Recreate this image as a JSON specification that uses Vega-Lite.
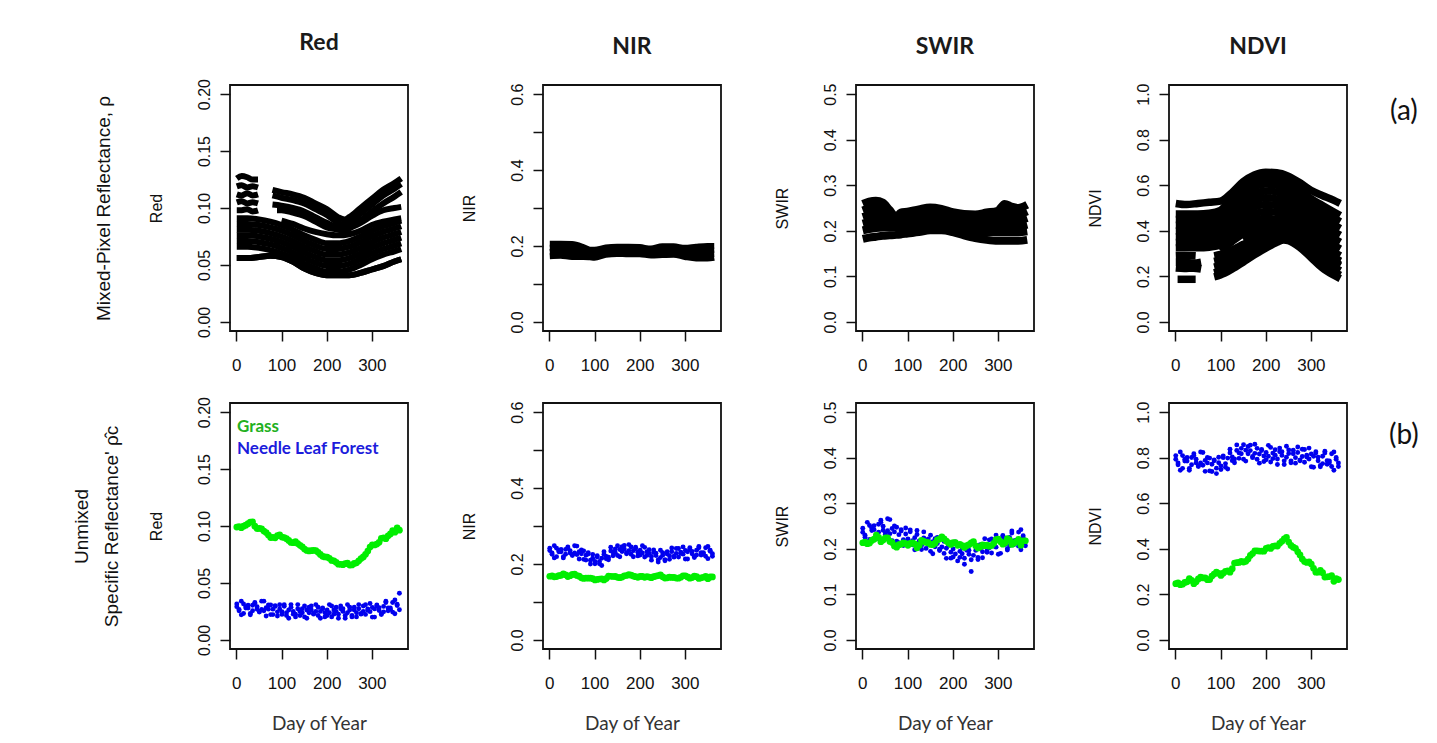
{
"$schema":"https://vega.github.io/schema/vega-lite/v6.json",
"background":"white",
"padding":{"left":71,"top":30,"right":0,"bottom":0},
"config":{
 "view":{"stroke":"#111","strokeWidth":1.8},
 "font":"Liberation Sans",
 "axis":{"domain":false,"grid":false,"tickColor":"#111","tickWidth":1.5,"tickSize":10,"labelColor":"#111","labelFont":"Liberation Sans","titleFont":"Liberation Sans","titleFontWeight":"normal","titleColor":"#111","labelOverlap":false,"labelBound":false,"labelFlush":false},
 "axisX":{"labelFontSize":17,"labelPadding":16,"labelAngle":0,"titleFont":"Lato","titleFontSize":19,"titleColor":"#333","titlePadding":23},
 "axisY":{"labelFontSize":16,"labelAngle":270,"labelAlign":"center","labelBaseline":"bottom","labelPadding":8,"titleFontSize":16,"titlePadding":32},
 "title":{"font":"Lato","fontSize":23,"fontWeight":"bold","color":"#1a1a1a","offset":24,"anchor":"middle","frame":"group"}
},
"datasets":{
"redTop":[
{"d":1,"a1":0.056,"a2":0.066,"a3":0.071,"a4":0.076,"a5":0.081,"a6":0.086,"a7":0.091,"s1":0.126,"s2":0.119,"s3":0.112,"s4":0.105,"s5":0.098},
{"d":12,"s1":0.128,"s2":0.12,"s3":0.111,"s4":0.106,"s5":0.098},
{"d":24,"s1":0.127,"s2":0.118,"s3":0.113,"s4":0.104,"s5":0.099},
{"d":25,"a1":0.056,"a2":0.066,"a3":0.071,"a4":0.076,"a5":0.081,"a6":0.086,"a7":0.091},
{"d":36,"s1":0.125,"s2":0.119,"s3":0.111,"s4":0.105,"s5":0.097},
{"d":48,"s1":0.125,"s2":0.118,"s3":0.112,"s4":0.104,"s5":0.098},
{"d":50,"a1":0.057,"a2":0.065,"a3":0.07,"a4":0.075,"a5":0.08,"a6":0.085,"a7":0.09},
{"d":75,"a1":0.058,"a2":0.063,"a3":0.068,"a4":0.073,"a5":0.078,"a6":0.083,"a7":0.088},
{"d":80,"u1":0.116,"u2":0.111,"u3":0.103},
{"d":90,"u4":0.098},
{"d":100,"a1":0.057,"a2":0.06,"a3":0.065,"a4":0.07,"a5":0.075,"a6":0.08,"a7":0.085,"a8":0.089,"u1":0.114,"u2":0.109,"u3":0.102,"u4":0.098},
{"d":125,"a1":0.053,"a2":0.056,"a3":0.061,"a4":0.066,"a5":0.071,"a6":0.076,"a7":0.081,"a8":0.086,"u1":0.112,"u2":0.107,"u3":0.1,"u4":0.096},
{"d":150,"a1":0.047,"a2":0.051,"a3":0.056,"a4":0.061,"a5":0.066,"a6":0.071,"a7":0.076,"a8":0.082,"u1":0.109,"u2":0.104,"u3":0.097,"u4":0.093},
{"d":175,"a1":0.043,"a2":0.047,"a3":0.052,"a4":0.057,"a5":0.062,"a6":0.067,"a7":0.072,"a8":0.079,"u1":0.104,"u2":0.099,"u3":0.092,"u4":0.088},
{"d":200,"a1":0.041,"a2":0.044,"a3":0.049,"a4":0.054,"a5":0.059,"a6":0.064,"a7":0.069,"a8":0.077,"u1":0.099,"u2":0.094,"u3":0.087,"u4":0.083},
{"d":225,"a1":0.041,"a2":0.044,"a3":0.049,"a4":0.054,"a5":0.059,"a6":0.064,"a7":0.069,"a8":0.076,"u1":0.092,"u2":0.087,"u3":0.083,"u4":0.081},
{"d":240,"u1":0.09,"u2":0.085,"u3":0.082,"u4":0.08},
{"d":250,"a1":0.041,"a2":0.046,"a3":0.051,"a4":0.056,"a5":0.061,"a6":0.066,"a7":0.071,"a8":0.077,"u1":0.092,"u2":0.087,"u3":0.083,"u4":0.082},
{"d":275,"a1":0.043,"a2":0.05,"a3":0.055,"a4":0.06,"a5":0.065,"a6":0.07,"a7":0.075,"a8":0.08,"u1":0.1,"u2":0.095,"u3":0.089,"u4":0.087},
{"d":300,"a1":0.046,"a2":0.055,"a3":0.06,"a4":0.065,"a5":0.07,"a6":0.075,"a7":0.08,"a8":0.085,"u1":0.108,"u2":0.103,"u3":0.097,"u4":0.093},
{"d":325,"a1":0.049,"a2":0.059,"a3":0.064,"a4":0.069,"a5":0.074,"a6":0.079,"a7":0.084,"a8":0.088,"u1":0.116,"u2":0.111,"u3":0.104,"u4":0.098},
{"d":350,"a1":0.053,"a2":0.062,"a3":0.067,"a4":0.072,"a5":0.077,"a6":0.082,"a7":0.087,"a8":0.09,"u1":0.122,"u2":0.117,"u3":0.11,"u4":0.1},
{"d":365,"a1":0.055,"a2":0.064,"a3":0.069,"a4":0.074,"a5":0.079,"a6":0.084,"a7":0.089,"a8":0.091,"u1":0.126,"u2":0.121,"u3":0.114,"u4":0.101}
],
"nirTop":[
{"d":1,"n1":0.206,"n2":0.195,"n3":0.184,"n4":0.173},
{"d":25,"n1":0.206,"n2":0.195,"n3":0.185,"n4":0.174},
{"d":50,"n1":0.205,"n2":0.194,"n3":0.182,"n4":0.171},
{"d":75,"n1":0.197,"n2":0.188,"n3":0.18,"n4":0.171},
{"d":90,"n1":0.19,"n2":0.183,"n3":0.177,"n4":0.17},
{"d":100,"n1":0.19,"n2":0.183,"n3":0.176,"n4":0.169},
{"d":125,"n1":0.196,"n2":0.19,"n3":0.183,"n4":0.177},
{"d":150,"n1":0.198,"n2":0.192,"n3":0.185,"n4":0.179},
{"d":175,"n1":0.198,"n2":0.191,"n3":0.185,"n4":0.178},
{"d":200,"n1":0.197,"n2":0.191,"n3":0.184,"n4":0.178},
{"d":225,"n1":0.193,"n2":0.187,"n3":0.181,"n4":0.175},
{"d":250,"n1":0.199,"n2":0.191,"n3":0.184,"n4":0.176},
{"d":275,"n1":0.199,"n2":0.192,"n3":0.184,"n4":0.177},
{"d":300,"n1":0.195,"n2":0.187,"n3":0.179,"n4":0.171},
{"d":325,"n1":0.198,"n2":0.188,"n3":0.177,"n4":0.167},
{"d":350,"n1":0.2,"n2":0.189,"n3":0.178,"n4":0.167},
{"d":365,"n1":0.2,"n2":0.19,"n3":0.179,"n4":0.169}
],
"swirTop":[
{"d":1,"w1":0.182,"w2":0.201,"w3":0.2155,"w4":0.23,"w5":0.2445,"w6":0.259},
{"d":15,"w1":0.185,"w2":0.204,"w3":0.219,"w4":0.234,"w5":0.249,"w6":0.264},
{"d":30,"w1":0.187,"w2":0.206,"w3":0.221,"w4":0.236,"w5":0.251,"w6":0.266},
{"d":45,"w1":0.189,"w2":0.207,"w3":0.221,"w4":0.2345,"w5":0.248,"w6":0.262},
{"d":60,"w1":0.19,"w2":0.207,"w3":0.217,"w4":0.2265,"w5":0.236,"w6":0.246},
{"d":75,"w1":0.191,"w2":0.207,"w3":0.213,"w4":0.2185,"w5":0.224,"w6":0.23},
{"d":85,"w1":0.192,"w2":0.206,"w3":0.2145,"w4":0.223,"w5":0.2315,"w6":0.24},
{"d":100,"w1":0.194,"w2":0.205,"w3":0.214,"w4":0.2235,"w5":0.233,"w6":0.242},
{"d":125,"w1":0.197,"w2":0.207,"w3":0.217,"w4":0.227,"w5":0.237,"w6":0.247},
{"d":150,"w1":0.201,"w2":0.21,"w3":0.22,"w4":0.2305,"w5":0.241,"w6":0.251},
{"d":175,"w1":0.201,"w2":0.21,"w3":0.2195,"w4":0.229,"w5":0.2385,"w6":0.248},
{"d":200,"w1":0.197,"w2":0.206,"w3":0.2148,"w4":0.2235,"w5":0.232,"w6":0.241},
{"d":225,"w1":0.19,"w2":0.199,"w3":0.2085,"w4":0.218,"w5":0.2275,"w6":0.237},
{"d":250,"w1":0.184,"w2":0.196,"w3":0.206,"w4":0.216,"w5":0.226,"w6":0.236},
{"d":275,"w1":0.18,"w2":0.196,"w3":0.207,"w4":0.218,"w5":0.229,"w6":0.24},
{"d":300,"w1":0.178,"w2":0.197,"w3":0.209,"w4":0.2205,"w5":0.232,"w6":0.244},
{"d":315,"w1":0.178,"w2":0.197,"w3":0.2125,"w4":0.228,"w5":0.2435,"w6":0.259},
{"d":330,"w1":0.178,"w2":0.197,"w3":0.211,"w4":0.225,"w5":0.239,"w6":0.253},
{"d":345,"w1":0.178,"w2":0.197,"w3":0.21,"w4":0.2235,"w5":0.2365,"w6":0.25},
{"d":365,"w1":0.18,"w2":0.199,"w3":0.2135,"w4":0.228,"w5":0.2425,"w6":0.257}
],
"ndviTop":[
{"d":1,"A":0.52,"M1":0.474,"M2":0.449,"M3":0.424,"M4":0.399,"M5":0.374,"M6":0.349,"M7":0.325,"Q1":0.291,"Q2":0.262,"Q3":0.236},
{"d":5,"Q4":0.187},
{"d":20,"Q1":0.292,"Q2":0.262,"Q3":0.234},
{"d":25,"A":0.515,"M1":0.474,"M2":0.449,"M3":0.424,"M4":0.399,"M5":0.374,"M6":0.349,"M7":0.325,"Q4":0.187},
{"d":40,"Q2":0.258,"Q3":0.236},
{"d":45,"Q1":0.29,"Q4":0.187},
{"d":50,"A":0.52,"M1":0.474,"M2":0.449,"M3":0.424,"M4":0.399,"M5":0.374,"M6":0.349,"M7":0.325},
{"d":57,"Q2":0.262,"Q3":0.232},
{"d":75,"A":0.525,"M1":0.477,"M2":0.452,"M3":0.427,"M4":0.402,"M5":0.377,"M6":0.352,"M7":0.328},
{"d":86,"G1":0.29,"G2":0.265,"G3":0.24,"G4":0.215,"G5":0.198},
{"d":100,"A":0.53,"M1":0.49,"M2":0.465,"M3":0.439,"M4":0.414,"M5":0.388,"M6":0.363,"M7":0.338,"M8":0.312,"G1":0.296,"G2":0.272,"G3":0.248,"G4":0.224,"G5":0.206},
{"d":125,"A":0.567,"M1":0.545,"M2":0.519,"M3":0.492,"M4":0.465,"M5":0.437,"M6":0.41,"M7":0.384,"M8":0.352,"G1":0.315,"G2":0.292,"G3":0.27,"G4":0.248,"G5":0.231},
{"d":150,"A":0.615,"M1":0.588,"M2":0.561,"M3":0.533,"M4":0.504,"M5":0.476,"M6":0.447,"M7":0.419,"M8":0.388,"M9":0.362,"G1":0.34,"G2":0.318,"G3":0.298,"G4":0.278,"G5":0.262},
{"d":175,"A":0.645,"M1":0.619,"M2":0.593,"M3":0.563,"M4":0.533,"M5":0.504,"M6":0.474,"M7":0.445,"M8":0.415,"M9":0.39,"G1":0.365,"G2":0.345,"G3":0.327,"G4":0.309,"G5":0.294},
{"d":200,"A":0.657,"M1":0.632,"M2":0.605,"M3":0.575,"M4":0.545,"M5":0.515,"M6":0.485,"M7":0.455,"M8":0.428,"M9":0.405,"G1":0.385,"G2":0.368,"G3":0.352,"G4":0.337,"G5":0.323},
{"d":225,"A":0.655,"M1":0.627,"M2":0.6,"M3":0.57,"M4":0.54,"M5":0.51,"M6":0.48,"M7":0.45,"M8":0.425,"M9":0.41,"G1":0.398,"G2":0.385,"G3":0.372,"G4":0.36,"G5":0.35},
{"d":240,"G1":0.4,"G2":0.388,"G3":0.377,"G4":0.367,"G5":0.36},
{"d":250,"A":0.64,"M1":0.609,"M2":0.582,"M3":0.552,"M4":0.522,"M5":0.492,"M6":0.462,"M7":0.432,"M8":0.407,"M9":0.392,"G1":0.397,"G2":0.385,"G3":0.374,"G4":0.364,"G5":0.357},
{"d":275,"A":0.612,"M1":0.583,"M2":0.556,"M3":0.526,"M4":0.496,"M5":0.466,"M6":0.436,"M7":0.406,"M8":0.38,"M9":0.36,"G1":0.375,"G2":0.362,"G3":0.35,"G4":0.338,"G5":0.328},
{"d":300,"A":0.578,"M1":0.541,"M2":0.514,"M3":0.484,"M4":0.454,"M5":0.424,"M6":0.394,"M7":0.364,"M8":0.34,"M9":0.322,"G1":0.34,"G2":0.325,"G3":0.31,"G4":0.295,"G5":0.283},
{"d":325,"A":0.555,"M1":0.512,"M2":0.485,"M3":0.455,"M4":0.425,"M5":0.395,"M6":0.365,"M7":0.335,"M8":0.31,"M9":0.292,"G1":0.305,"G2":0.288,"G3":0.27,"G4":0.252,"G5":0.238},
{"d":350,"A":0.535,"M1":0.484,"M2":0.457,"M3":0.427,"M4":0.397,"M5":0.367,"M6":0.337,"M7":0.307,"M8":0.283,"M9":0.266,"G1":0.28,"G2":0.262,"G3":0.242,"G4":0.222,"G5":0.206},
{"d":365,"A":0.52,"M1":0.467,"M2":0.44,"M3":0.41,"M4":0.38,"M5":0.35,"M6":0.32,"M7":0.29,"M8":0.268,"M9":0.25,"G1":0.265,"G2":0.245,"G3":0.225,"G4":0.205,"G5":0.19}
],
"bottom":[
{"d":1,"rG":0.0991,"rN":0.0316,"rM":0.0292,"nG":0.1676,"nN":0.2352,"nM":0.2416,"sG":0.2132,"sN":0.2452,"sM":0.2364,"vG":0.247,"vN":0.793,"vM":0.809},
{"d":6,"rG":0.0994,"rN":0.0256,"rM":0.0268,"nG":0.1684,"nN":0.2288,"nM":0.2256,"sG":0.2148,"sN":0.2252,"sM":0.2296,"vG":0.25,"vN":0.777,"vM":0.769},
{"d":11,"rG":0.0985,"rN":0.034,"rM":0.022,"nG":0.166,"nN":0.216,"nM":0.248,"sG":0.211,"sN":0.258,"sM":0.214,"vG":0.242,"vN":0.745,"vM":0.825},
{"d":16,"rG":0.0998,"rN":0.0232,"rM":0.0316,"nG":0.1668,"nN":0.2416,"nM":0.2192,"sG":0.2126,"sN":0.2204,"sM":0.2512,"vG":0.2446,"vN":0.809,"vM":0.753},
{"d":21,"rG":0.1007,"rN":0.0292,"rM":0.028,"nG":0.1692,"nN":0.232,"nM":0.2352,"sG":0.2184,"sN":0.2444,"sM":0.24,"vG":0.2524,"vN":0.785,"vM":0.793},
{"d":26,"rG":0.102,"rN":0.028,"rM":0.0304,"nG":0.17,"nN":0.2384,"nM":0.232,"sG":0.221,"sN":0.242,"sM":0.2508,"vG":0.255,"vN":0.801,"vM":0.785},
{"d":31,"rG":0.1035,"rN":0.022,"rM":0.0232,"nG":0.174,"nN":0.2192,"nM":0.216,"sG":0.23,"sN":0.222,"sM":0.2264,"vG":0.269,"vN":0.753,"vM":0.745},
{"d":36,"rG":0.1036,"rN":0.0304,"rM":0.0256,"nG":0.1716,"nN":0.2256,"nM":0.2384,"sG":0.2252,"sN":0.2538,"sM":0.2362,"vG":0.2612,"vN":0.769,"vM":0.801},
{"d":41,"rG":0.0998,"rN":0.0328,"rM":0.0322,"nG":0.1668,"nN":0.2448,"nM":0.242,"sG":0.2156,"sN":0.2626,"sM":0.258,"vG":0.2466,"vN":0.817,"vM":0.809},
{"d":46,"rG":0.0977,"rN":0.0268,"rM":0.0292,"nG":0.1692,"nN":0.2352,"nM":0.2288,"sG":0.2194,"sN":0.2406,"sM":0.2494,"vG":0.2554,"vN":0.793,"vM":0.777},
{"d":51,"rG":0.0979,"rN":0.0244,"rM":0.025,"nG":0.1724,"nN":0.2224,"nM":0.225,"sG":0.2238,"sN":0.2318,"sM":0.235,"vG":0.2678,"vN":0.761,"vM":0.765},
{"d":56,"rG":0.0975,"rN":0.034,"rM":0.0268,"nG":0.173,"nN":0.2288,"nM":0.248,"sG":0.224,"sN":0.266,"sM":0.2396,"vG":0.276,"vN":0.777,"vM":0.825},
{"d":61,"rG":0.0956,"rN":0.0256,"rM":0.034,"nG":0.1696,"nN":0.247,"nM":0.2246,"sG":0.2162,"sN":0.2332,"sM":0.264,"vG":0.2722,"vN":0.823,"vM":0.767},
{"d":66,"rG":0.0943,"rN":0.0282,"rM":0.021,"nG":0.1678,"nN":0.213,"nM":0.2322,"sG":0.2136,"sN":0.2444,"sM":0.218,"vG":0.2726,"vN":0.74,"vM":0.788},
{"d":71,"rG":0.0921,"rN":0.0306,"rM":0.027,"nG":0.1636,"nN":0.227,"nM":0.2366,"sG":0.2062,"sN":0.2502,"sM":0.237,"vG":0.2642,"vN":0.777,"vM":0.801},
{"d":76,"rG":0.0898,"rN":0.0222,"rM":0.0306,"nG":0.1618,"nN":0.2346,"nM":0.2122,"sG":0.2036,"sN":0.2164,"sM":0.2472,"vG":0.2646,"vN":0.798,"vM":0.742},
{"d":81,"rG":0.09,"rN":0.027,"rM":0.0222,"nG":0.163,"nN":0.2102,"nM":0.223,"sG":0.209,"sN":0.231,"sM":0.2134,"vG":0.28,"vN":0.739,"vM":0.771},
{"d":86,"rG":0.0896,"rN":0.0294,"rM":0.03,"nG":0.1626,"nN":0.2264,"nM":0.23,"sG":0.2102,"sN":0.2388,"sM":0.242,"vG":0.2892,"vN":0.786,"vM":0.79},
{"d":91,"rG":0.0915,"rN":0.021,"rM":0.0246,"nG":0.163,"nN":0.2096,"nM":0.2,"sG":0.213,"sN":0.207,"sM":0.2202,"vG":0.298,"vN":0.754,"vM":0.73},
{"d":96,"rG":0.0922,"rN":0.0308,"rM":0.0272,"nG":0.1612,"nN":0.2152,"nM":0.2248,"sG":0.2114,"sN":0.2456,"sM":0.2324,"vG":0.2924,"vN":0.778,"vM":0.802},
{"d":101,"rG":0.0903,"rN":0.0248,"rM":0.0224,"nG":0.1578,"nN":0.2004,"nM":0.2068,"sG":0.2076,"sN":0.2216,"sM":0.2128,"vG":0.2826,"vN":0.748,"vM":0.764},
{"d":106,"rG":0.0899,"rN":0.0296,"rM":0.0308,"nG":0.1594,"nN":0.2218,"nM":0.2186,"sG":0.2118,"sN":0.2372,"sM":0.2416,"vG":0.2928,"vN":0.808,"vM":0.8},
{"d":111,"rG":0.0889,"rN":0.0214,"rM":0.0238,"nG":0.1604,"nN":0.2068,"nM":0.2004,"sG":0.2128,"sN":0.2088,"sM":0.2176,"vG":0.3008,"vN":0.774,"vM":0.758},
{"d":116,"rG":0.0873,"rN":0.0262,"rM":0.019,"nG":0.1608,"nN":0.196,"nM":0.2152,"sG":0.2106,"sN":0.2244,"sM":0.198,"vG":0.3026,"vN":0.75,"vM":0.798},
{"d":121,"rG":0.0855,"rN":0.031,"rM":0.0286,"nG":0.158,"nN":0.2256,"nM":0.232,"sG":0.202,"sN":0.24,"sM":0.2312,"vG":0.297,"vN":0.821,"vM":0.837},
{"d":126,"rG":0.0854,"rN":0.0226,"rM":0.025,"nG":0.1614,"nN":0.22,"nM":0.2136,"sG":0.2078,"sN":0.2082,"sM":0.217,"vG":0.3128,"vN":0.803,"vM":0.787},
{"d":131,"rG":0.0862,"rN":0.0202,"rM":0.0226,"nG":0.1682,"nN":0.2176,"nM":0.2112,"sG":0.2184,"sN":0.1984,"sM":0.2072,"vG":0.3374,"vN":0.794,"vM":0.778},
{"d":136,"rG":0.0846,"rN":0.0274,"rM":0.031,"nG":0.1676,"nN":0.244,"nM":0.2344,"sG":0.2162,"sN":0.2238,"sM":0.237,"vG":0.3392,"vN":0.856,"vM":0.832},
{"d":141,"rG":0.083,"rN":0.025,"rM":0.0214,"nG":0.167,"nN":0.2214,"nM":0.231,"sG":0.214,"sN":0.214,"sM":0.2008,"vG":0.34,"vN":0.797,"vM":0.821},
{"d":146,"rG":0.0817,"rN":0.0238,"rM":0.0274,"nG":0.1672,"nN":0.2394,"nM":0.2298,"sG":0.2134,"sN":0.2086,"sM":0.2218,"vG":0.3444,"vN":0.841,"vM":0.817},
{"d":151,"rG":0.0798,"rN":0.0298,"rM":0.0202,"nG":0.1648,"nN":0.2222,"nM":0.2478,"sG":0.2096,"sN":0.2296,"sM":0.1944,"vG":0.3416,"vN":0.793,"vM":0.857},
{"d":156,"rG":0.0785,"rN":0.019,"rM":0.0262,"nG":0.164,"nN":0.2382,"nM":0.219,"sG":0.209,"sN":0.189,"sM":0.2154,"vG":0.345,"vN":0.833,"vM":0.785},
{"d":161,"rG":0.0781,"rN":0.0286,"rM":0.0238,"nG":0.1656,"nN":0.2328,"nM":0.2456,"sG":0.2122,"sN":0.2222,"sM":0.2046,"vG":0.3552,"vN":0.817,"vM":0.849},
{"d":166,"rG":0.0783,"rN":0.0262,"rM":0.0298,"nG":0.1688,"nN":0.2488,"nM":0.2392,"sG":0.2196,"sN":0.2114,"sM":0.2246,"vG":0.3706,"vN":0.855,"vM":0.831},
{"d":171,"rG":0.0786,"rN":0.0226,"rM":0.0232,"nG":0.1696,"nN":0.2296,"nM":0.227,"sG":0.2212,"sN":0.1962,"sM":0.199,"vG":0.3792,"vN":0.805,"vM":0.8},
{"d":176,"rG":0.0785,"rN":0.031,"rM":0.025,"nG":0.172,"nN":0.235,"nM":0.251,"sG":0.226,"sN":0.226,"sM":0.204,"vG":0.391,"vN":0.819,"vM":0.859},
{"d":181,"rG":0.0769,"rN":0.0214,"rM":0.0286,"nG":0.1704,"nN":0.2446,"nM":0.2254,"sG":0.2218,"sN":0.1898,"sM":0.2162,"vG":0.3908,"vN":0.841,"vM":0.793},
{"d":186,"rG":0.075,"rN":0.025,"rM":0.019,"nG":0.168,"nN":0.219,"nM":0.235,"sG":0.217,"sN":0.201,"sM":0.179,"vG":0.39,"vN":0.776,"vM":0.816},
{"d":191,"rG":0.0734,"rN":0.0274,"rM":0.028,"nG":0.1664,"nN":0.2404,"nM":0.244,"sG":0.2128,"sN":0.2078,"sM":0.211,"vG":0.3898,"vN":0.831,"vM":0.836},
{"d":196,"rG":0.0728,"rN":0.0202,"rM":0.0238,"nG":0.1648,"nN":0.2308,"nM":0.2212,"sG":0.2096,"sN":0.1794,"sM":0.1926,"vG":0.3896,"vN":0.807,"vM":0.783},
{"d":201,"rG":0.0727,"rN":0.0262,"rM":0.0214,"nG":0.1672,"nN":0.2234,"nM":0.2362,"sG":0.2134,"sN":0.1994,"sM":0.1818,"vG":0.4014,"vN":0.791,"vM":0.823},
{"d":206,"rG":0.0717,"rN":0.0238,"rM":0.031,"nG":0.1672,"nN":0.248,"nM":0.2288,"sG":0.2134,"sN":0.1886,"sM":0.215,"vG":0.4054,"vN":0.854,"vM":0.806},
{"d":211,"rG":0.0698,"rN":0.0298,"rM":0.0202,"nG":0.1648,"nN":0.2182,"nM":0.2438,"sG":0.2076,"sN":0.2086,"sM":0.1734,"vG":0.4016,"vN":0.781,"vM":0.845},
{"d":216,"rG":0.0694,"rN":0.0226,"rM":0.0262,"nG":0.1664,"nN":0.2322,"nM":0.2226,"sG":0.2098,"sN":0.1812,"sM":0.1944,"vG":0.4108,"vN":0.82,"vM":0.796},
{"d":221,"rG":0.0681,"rN":0.0286,"rM":0.025,"nG":0.1656,"nN":0.228,"nM":0.2376,"sG":0.2072,"sN":0.2022,"sM":0.189,"vG":0.4132,"vN":0.811,"vM":0.835},
{"d":226,"rG":0.0665,"rN":0.019,"rM":0.0226,"nG":0.164,"nN":0.2196,"nM":0.21,"sG":0.203,"sN":0.166,"sM":0.1792,"vG":0.412,"vN":0.794,"vM":0.77},
{"d":231,"rG":0.0664,"rN":0.0274,"rM":0.0298,"nG":0.1664,"nN":0.2368,"nM":0.2304,"sG":0.2068,"sN":0.1968,"sM":0.2056,"vG":0.4238,"vN":0.842,"vM":0.826},
{"d":236,"rG":0.066,"rN":0.025,"rM":0.0274,"nG":0.168,"nN":0.2284,"nM":0.222,"sG":0.209,"sN":0.188,"sM":0.1968,"vG":0.433,"vN":0.826,"vM":0.81},
{"d":241,"rG":0.0669,"rN":0.0214,"rM":0.019,"nG":0.1694,"nN":0.205,"nM":0.2114,"sG":0.2128,"sN":0.1758,"sM":0.15,"vG":0.4438,"vN":0.77,"vM":0.786},
{"d":246,"rG":0.0675,"rN":0.031,"rM":0.0238,"nG":0.171,"nN":0.2168,"nM":0.236,"sG":0.216,"sN":0.212,"sM":0.1856,"vG":0.45,"vN":0.802,"vM":0.85},
{"d":251,"rG":0.0657,"rN":0.0262,"rM":0.0286,"nG":0.1662,"nN":0.2296,"nM":0.2232,"sG":0.2064,"sN":0.1964,"sM":0.2052,"vG":0.4294,"vN":0.834,"vM":0.818},
{"d":256,"rG":0.0658,"rN":0.0202,"rM":0.0214,"nG":0.1628,"nN":0.2114,"nM":0.2082,"sG":0.2016,"sN":0.1764,"sM":0.1808,"vG":0.4146,"vN":0.786,"vM":0.778},
{"d":261,"rG":0.0671,"rN":0.0286,"rM":0.0262,"nG":0.1636,"nN":0.2262,"nM":0.2326,"sG":0.2042,"sN":0.2092,"sM":0.2004,"vG":0.4072,"vN":0.817,"vM":0.833},
{"d":266,"rG":0.0677,"rN":0.0238,"rM":0.0202,"nG":0.1652,"nN":0.2122,"nM":0.2218,"sG":0.2084,"sN":0.1936,"sM":0.1804,"vG":0.4024,"vN":0.776,"vM":0.8},
{"d":271,"rG":0.0694,"rN":0.0274,"rM":0.031,"nG":0.1644,"nN":0.242,"nM":0.2324,"sG":0.2068,"sN":0.2088,"sM":0.222,"vG":0.3868,"vN":0.847,"vM":0.823},
{"d":276,"rG":0.0714,"rN":0.0226,"rM":0.0232,"nG":0.1644,"nN":0.2206,"nM":0.218,"sG":0.2078,"sN":0.1922,"sM":0.195,"vG":0.3728,"vN":0.79,"vM":0.786},
{"d":281,"rG":0.0728,"rN":0.0298,"rM":0.025,"nG":0.1628,"nN":0.228,"nM":0.2408,"sG":0.2056,"sN":0.2196,"sM":0.202,"vG":0.3546,"vN":0.805,"vM":0.837},
{"d":286,"rG":0.0751,"rN":0.0224,"rM":0.0308,"nG":0.1626,"nN":0.2408,"nM":0.2184,"sG":0.2072,"sN":0.1908,"sM":0.2216,"vG":0.3442,"vN":0.836,"vM":0.78},
{"d":291,"rG":0.078,"rN":0.026,"rM":0.0272,"nG":0.165,"nN":0.2312,"nM":0.228,"sG":0.212,"sN":0.206,"sM":0.2104,"vG":0.34,"vN":0.811,"vM":0.803},
{"d":296,"rG":0.0815,"rN":0.032,"rM":0.0248,"nG":0.169,"nN":0.2258,"nM":0.245,"sG":0.22,"sN":0.23,"sM":0.2036,"vG":0.343,"vN":0.794,"vM":0.842},
{"d":301,"rG":0.0835,"rN":0.02,"rM":0.0284,"nG":0.169,"nN":0.2354,"nM":0.213,"sG":0.221,"sN":0.188,"sM":0.2188,"vG":0.333,"vN":0.816,"vM":0.76},
{"d":306,"rG":0.0833,"rN":0.0272,"rM":0.02,"nG":0.1658,"nN":0.213,"nM":0.2322,"sG":0.2156,"sN":0.2164,"sM":0.19,"vG":0.3146,"vN":0.758,"vM":0.806},
{"d":311,"rG":0.0841,"rN":0.0306,"rM":0.03,"nG":0.1626,"nN":0.2396,"nM":0.243,"sG":0.2102,"sN":0.2262,"sM":0.229,"vG":0.2972,"vN":0.82,"vM":0.826},
{"d":316,"rG":0.0857,"rN":0.0258,"rM":0.0282,"nG":0.1642,"nN":0.2332,"nM":0.2268,"sG":0.2134,"sN":0.2096,"sM":0.2184,"vG":0.2974,"vN":0.802,"vM":0.786},
{"d":321,"rG":0.0892,"rN":0.0222,"rM":0.023,"nG":0.1682,"nN":0.2172,"nM":0.22,"sG":0.2224,"sN":0.1974,"sM":0.2,"vG":0.3054,"vN":0.76,"vM":0.766},
{"d":326,"rG":0.0896,"rN":0.0294,"rM":0.0246,"nG":0.1666,"nN":0.2236,"nM":0.2364,"sG":0.2192,"sN":0.2248,"sM":0.2072,"vG":0.2952,"vN":0.774,"vM":0.806},
{"d":331,"rG":0.0888,"rN":0.0328,"rM":0.034,"nG":0.1618,"nN":0.246,"nM":0.2428,"sG":0.2096,"sN":0.2346,"sM":0.239,"vG":0.2756,"vN":0.828,"vM":0.82},
{"d":336,"rG":0.0914,"rN":0.0256,"rM":0.028,"nG":0.1634,"nN":0.23,"nM":0.2236,"sG":0.2128,"sN":0.2092,"sM":0.218,"vG":0.2768,"vN":0.787,"vM":0.771},
{"d":341,"rG":0.093,"rN":0.028,"rM":0.0268,"nG":0.165,"nN":0.2268,"nM":0.23,"sG":0.216,"sN":0.219,"sM":0.2146,"vG":0.278,"vN":0.778,"vM":0.786},
{"d":346,"rG":0.0959,"rN":0.0244,"rM":0.0328,"nG":0.1674,"nN":0.2428,"nM":0.2204,"sG":0.2208,"sN":0.2058,"sM":0.2366,"vG":0.2818,"vN":0.817,"vM":0.761},
{"d":351,"rG":0.0945,"rN":0.035,"rM":0.023,"nG":0.161,"nN":0.214,"nM":0.246,"sG":0.208,"sN":0.242,"sM":0.198,"vG":0.257,"vN":0.745,"vM":0.825},
{"d":356,"rG":0.0983,"rN":0.0302,"rM":0.0314,"nG":0.1658,"nN":0.2364,"nM":0.2332,"sG":0.2176,"sN":0.2244,"sM":0.2288,"vG":0.2686,"vN":0.801,"vM":0.793},
{"d":361,"rG":0.0963,"rN":0.041,"rM":0.0264,"nG":0.1658,"nN":0.2204,"nM":0.2268,"sG":0.2176,"sN":0.2156,"sM":0.2068,"vG":0.2646,"vN":0.761,"vM":0.777}
]
},
"columns":4,
"spacing":{"row":72,"column":135},
"bounds":"flush",
"resolve":{"scale":{"color":"independent"},"legend":{"color":"independent"}},
"concat":[
{"width":178,"height":246,"title":{"text":"Red"},
 "layer":[
  {"data":{"name":"redTop"},"transform":[{"fold":["a1","a2","a3","a4","a5","a6","a7","a8","u1","u2","u3","u4","s1","s2","s3","s4","s5"],"as":["line","value"]},{"filter":"isValid(datum.value)"}],
   "mark":{"type":"line","color":"#000","strokeWidth":6,"interpolate":"monotone","strokeCap":"butt"},
   "encoding":{"x":{"field":"d","type":"quantitative","scale":{"domain":[-14,380],"nice":false,"zero":false},"axis":{"values":[0,100,200,300],"title":null}},
    "y":{"field":"value","type":"quantitative","scale":{"domain":[-0.008,0.208],"nice":false,"zero":false},"axis":{"values":[0,0.05,0.1,0.15,0.2],"format":".2f","title":"Red"}},
    "detail":{"field":"line"}}},
  {"data":{"name":"redTop"},"transform":[{"fold":["a1"],"as":["line","value"]},{"filter":"isValid(datum.value)"}],
   "mark":{"type":"line","color":"#000","strokeWidth":6,"interpolate":"monotone","strokeCap":"butt"},
   "encoding":{"x":{"field":"d","type":"quantitative","scale":{"domain":[-14,380],"nice":false,"zero":false},"axis":{"values":[0,100,200,300],"title":null}},
    "y":{"field":"value","type":"quantitative","scale":{"domain":[-0.008,0.208],"nice":false,"zero":false},"axis":{"orient":"left","offset":117,"labels":false,"ticks":false,"domain":false,"title":"Mixed-Pixel Reflectance, ρ","titleFontSize":19,"titlePadding":0}},
    "detail":{"field":"line"}}}
 ],
 "resolve":{"axis":{"y":"independent"}}},
{"width":178,"height":246,"title":{"text":"NIR"},
 "data":{"name":"nirTop"},"transform":[{"fold":["n1","n2","n3","n4"],"as":["line","value"]},{"filter":"isValid(datum.value)"}],
 "mark":{"type":"line","color":"#000","strokeWidth":6,"interpolate":"monotone","strokeCap":"butt"},
 "encoding":{"x":{"field":"d","type":"quantitative","scale":{"domain":[-14,380],"nice":false,"zero":false},"axis":{"values":[0,100,200,300],"title":null}},
  "y":{"field":"value","type":"quantitative","scale":{"domain":[-0.024,0.624],"nice":false,"zero":false},"axis":{"values":[0,0.1,0.2,0.3,0.4,0.5,0.6],"labelExpr":"round(datum.value*10) % 2 == 0 ? format(datum.value, '.1f') : ''","title":"NIR"}},
  "detail":{"field":"line"}}},
{"width":178,"height":246,"title":{"text":"SWIR"},
 "data":{"name":"swirTop"},"transform":[{"fold":["w1","w2","w3","w4","w5","w6"],"as":["line","value"]},{"filter":"isValid(datum.value)"}],
 "mark":{"type":"line","color":"#000","strokeWidth":8,"interpolate":"monotone","strokeCap":"butt"},
 "encoding":{"x":{"field":"d","type":"quantitative","scale":{"domain":[-14,380],"nice":false,"zero":false},"axis":{"values":[0,100,200,300],"title":null}},
  "y":{"field":"value","type":"quantitative","scale":{"domain":[-0.02,0.52],"nice":false,"zero":false},"axis":{"values":[0,0.1,0.2,0.3,0.4,0.5],"format":".1f","title":"SWIR"}},
  "detail":{"field":"line"}}},
{"width":178,"height":246,"title":{"text":"NDVI"},
 "layer":[
  {"data":{"name":"ndviTop"},"transform":[{"fold":["A","M1","M2","M3","M4","M5","M6","M7","M8","M9","G1","G2","G3","G4","G5","Q1","Q2","Q3","Q4"],"as":["line","value"]},{"filter":"isValid(datum.value)"}],
   "mark":{"type":"line","color":"#000","strokeWidth":7.5,"interpolate":"monotone","strokeCap":"butt"},
   "encoding":{"x":{"field":"d","type":"quantitative","scale":{"domain":[-14,380],"nice":false,"zero":false},"axis":{"values":[0,100,200,300],"title":null}},
    "y":{"field":"value","type":"quantitative","scale":{"domain":[-0.04,1.04],"nice":false,"zero":false},"axis":{"values":[0,0.2,0.4,0.6,0.8,1],"format":".1f","title":"NDVI"}},
    "detail":{"field":"line"}}},
  {"data":{"values":[{"tag":"(a)"}]},
   "mark":{"type":"text","font":"Lato","fontSize":28,"color":"#111","align":"center","baseline":"middle"},
   "encoding":{"text":{"field":"tag"},"x":{"datum":506,"type":"quantitative","scale":{"domain":[-14,380],"nice":false,"zero":false}},"y":{"datum":0.921,"type":"quantitative","scale":{"domain":[-0.04,1.04],"nice":false,"zero":false}}}}
 ]},
{"width":178,"height":246,
 "layer":[
  {"data":{"name":"bottom"},"transform":[{"fold":["rN","rM"],"as":["k","value"]}],
   "mark":{"type":"point","filled":true,"shape":"circle","size":24,"opacity":1},
   "encoding":{"x":{"field":"d","type":"quantitative","scale":{"domain":[-14,380],"nice":false,"zero":false},"axis":{"values":[0,100,200,300],"title":"Day of Year"}},
    "y":{"field":"value","type":"quantitative","scale":{"domain":[-0.008,0.208],"nice":false,"zero":false},"axis":{"values":[0,0.05,0.1,0.15,0.2],"format":".2f","title":"Red"}},
    "color":{"datum":"Needle Leaf Forest","type":"nominal","scale":{"domain":["Grass","Needle Leaf Forest"],"range":["#00ee00","#0000ee"]},
     "legend":{"orient":"none","legendX":-10,"legendY":15,"title":null,"symbolSize":0,"symbolOpacity":0,"symbolStrokeWidth":0,"labelOffset":0,"labelFont":"Lato","labelFontSize":17,"labelFontWeight":"bold","rowPadding":4,"padding":0,"labelLimit":300,
      "encode":{"labels":{"update":{"fill":{"signal":"datum.label === 'Grass' ? '#22b022' : '#1c1cdc'"}}}}}}}},
  {"data":{"name":"bottom"},
   "mark":{"type":"point","filled":true,"shape":"circle","size":45,"opacity":1},
   "encoding":{"x":{"field":"d","type":"quantitative","scale":{"domain":[-14,380],"nice":false,"zero":false},"axis":{"values":[0,100,200,300],"title":"Day of Year"}},
    "y":{"field":"rG","type":"quantitative","scale":{"domain":[-0.008,0.208],"nice":false,"zero":false},"axis":{"orient":"left","offset":109,"labels":false,"ticks":false,"domain":false,"title":["Unmixed","Specific Reflectance' ρ̂c"],"titleFontSize":19,"titlePadding":0,"titleLineHeight":30}},
    "color":{"datum":"Grass","type":"nominal","scale":{"domain":["Grass","Needle Leaf Forest"],"range":["#00ee00","#0000ee"]}}}}
 ],
 "resolve":{"axis":{"y":"independent"}}},
{"width":178,"height":246,
 "layer":[
  {"data":{"name":"bottom"},"transform":[{"fold":["nN","nM"],"as":["k","value"]}],
   "mark":{"type":"point","filled":true,"shape":"circle","size":24,"opacity":1,"color":"#0000ee"},
   "encoding":{"x":{"field":"d","type":"quantitative","scale":{"domain":[-14,380],"nice":false,"zero":false},"axis":{"values":[0,100,200,300],"title":"Day of Year"}},
    "y":{"field":"value","type":"quantitative","scale":{"domain":[-0.024,0.624],"nice":false,"zero":false},"axis":{"values":[0,0.1,0.2,0.3,0.4,0.5,0.6],"labelExpr":"round(datum.value*10) % 2 == 0 ? format(datum.value, '.1f') : ''","title":"NIR"}}}},
  {"data":{"name":"bottom"},
   "mark":{"type":"point","filled":true,"shape":"circle","size":45,"opacity":1,"color":"#00ee00"},
   "encoding":{"x":{"field":"d","type":"quantitative","scale":{"domain":[-14,380],"nice":false,"zero":false}},
    "y":{"field":"nG","type":"quantitative","scale":{"domain":[-0.024,0.624],"nice":false,"zero":false}}}}
 ]},
{"width":178,"height":246,
 "layer":[
  {"data":{"name":"bottom"},"transform":[{"fold":["sN","sM"],"as":["k","value"]}],
   "mark":{"type":"point","filled":true,"shape":"circle","size":24,"opacity":1,"color":"#0000ee"},
   "encoding":{"x":{"field":"d","type":"quantitative","scale":{"domain":[-14,380],"nice":false,"zero":false},"axis":{"values":[0,100,200,300],"title":"Day of Year"}},
    "y":{"field":"value","type":"quantitative","scale":{"domain":[-0.02,0.52],"nice":false,"zero":false},"axis":{"values":[0,0.1,0.2,0.3,0.4,0.5],"format":".1f","title":"SWIR"}}}},
  {"data":{"name":"bottom"},
   "mark":{"type":"point","filled":true,"shape":"circle","size":45,"opacity":1,"color":"#00ee00"},
   "encoding":{"x":{"field":"d","type":"quantitative","scale":{"domain":[-14,380],"nice":false,"zero":false}},
    "y":{"field":"sG","type":"quantitative","scale":{"domain":[-0.02,0.52],"nice":false,"zero":false}}}}
 ]},
{"width":178,"height":246,
 "layer":[
  {"data":{"name":"bottom"},"transform":[{"fold":["vN","vM"],"as":["k","value"]}],
   "mark":{"type":"point","filled":true,"shape":"circle","size":24,"opacity":1,"color":"#0000ee"},
   "encoding":{"x":{"field":"d","type":"quantitative","scale":{"domain":[-14,380],"nice":false,"zero":false},"axis":{"values":[0,100,200,300],"title":"Day of Year"}},
    "y":{"field":"value","type":"quantitative","scale":{"domain":[-0.04,1.04],"nice":false,"zero":false},"axis":{"values":[0,0.2,0.4,0.6,0.8,1],"format":".1f","title":"NDVI"}}}},
  {"data":{"name":"bottom"},
   "mark":{"type":"point","filled":true,"shape":"circle","size":45,"opacity":1,"color":"#00ee00"},
   "encoding":{"x":{"field":"d","type":"quantitative","scale":{"domain":[-14,380],"nice":false,"zero":false}},
    "y":{"field":"vG","type":"quantitative","scale":{"domain":[-0.04,1.04],"nice":false,"zero":false}}}},
  {"data":{"values":[{"tag":"(b)"}]},
   "mark":{"type":"text","font":"Lato","fontSize":28,"color":"#111","align":"center","baseline":"middle"},
   "encoding":{"text":{"field":"tag"},"x":{"datum":506,"type":"quantitative","scale":{"domain":[-14,380],"nice":false,"zero":false}},"y":{"datum":0.895,"type":"quantitative","scale":{"domain":[-0.04,1.04],"nice":false,"zero":false}}}}
 ]}
]
}
